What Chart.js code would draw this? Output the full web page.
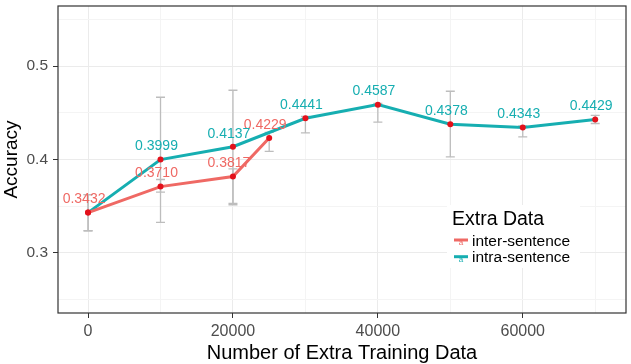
<!DOCTYPE html>
<html>
<head>
<meta charset="utf-8">
<script src="https://cdn.jsdelivr.net/npm/chart.js@4.4.1/dist/chart.umd.min.js"></script>
<style>
  html, body { margin: 0; padding: 0; background: #fff; }
  #wrap { width: 631px; height: 364px; }
</style>
</head>
<body>
<div id="wrap"><canvas id="myChart" width="631" height="364"></canvas></div>
<script>
// datos
const interX = [0, 10000, 20000, 25000];
const interAcc = [0.3432, 0.3710, 0.3817, 0.4229];
const interLow = [0.3238, 0.3652, 0.3530, 0.4087];
const interHigh = [0.3624, 0.3786, 0.3900, 0.4290];

const intraX = [0, 10000, 20000, 30000, 40000, 50000, 60000, 70000];
const intraAcc = [0.3432, 0.3999, 0.4137, 0.4441, 0.4587, 0.4378, 0.4343, 0.4429];
const intraLow = [0.3238, 0.3327, 0.3516, 0.4285, 0.4399, 0.4029, 0.4243, 0.4385];
const intraHigh = [0.3624, 0.4666, 0.4741, 0.4460, 0.4600, 0.4730, 0.4360, 0.4473];

const xTicks = [0, 10000, 20000, 30000, 40000, 50000, 60000, 70000];
const yTicks = [0.25, 0.3, 0.35, 0.4, 0.45, 0.5, 0.55];

const colorInter = '#EF6964';
const colorIntra = '#16AEB1';
const FONT = "'Liberation Sans', Arial, sans-serif";

const ctx = document.getElementById('myChart');

function puntos(xs, ys) {
    return xs.map((x, i) => ({ x: x, y: ys[i] }));
}

const series = [
    { label: 'inter-sentence', color: colorInter, xs: interX, ys: interAcc, lo: interLow, hi: interHigh },
    { label: 'intra-sentence', color: colorIntra, xs: intraX, ys: intraAcc, lo: intraLow, hi: intraHigh }
];

// barras de error dibujadas con las escalas del grafico
const errorBars = {
    id: 'errorBars',
    beforeDatasetsDraw(chart) {
        const c = chart.ctx;
        const sx = chart.scales.x, sy = chart.scales.y;
        c.save();
        c.strokeStyle = '#BDBDBD';
        c.lineWidth = 1.3;
        series.forEach(s => {
            s.xs.forEach((x, i) => {
                const px = sx.getPixelForValue(x);
                const y1 = sy.getPixelForValue(s.lo[i]);
                const y2 = sy.getPixelForValue(s.hi[i]);
                c.beginPath();
                c.moveTo(px, y1); c.lineTo(px, y2);
                c.moveTo(px - 4.5, y1); c.lineTo(px + 4.5, y1);
                c.moveTo(px - 4.5, y2); c.lineTo(px + 4.5, y2);
                c.stroke();
            });
        });
        c.restore();
    },
    afterDatasetsDraw(chart) {
        const c = chart.ctx;
        const sx = chart.scales.x, sy = chart.scales.y;
        const a = chart.chartArea;
        c.save();
        // etiquetas de valores
        c.font = '14px ' + FONT;
        c.textAlign = 'center';
        c.textBaseline = 'middle';
        const hechos = [];
        series.forEach(s => {
            c.fillStyle = s.color;
            s.xs.forEach((x, i) => {
                const key = x + '_' + s.ys[i];
                if (hechos.includes(key)) return;
                hechos.push(key);
                const px = sx.getPixelForValue(x);
                const py = sy.getPixelForValue(s.ys[i]);
                c.fillText(s.ys[i].toFixed(4), px - 4, py - 13);
            });
        });
        // borde del panel
        c.strokeStyle = '#333333';
        c.lineWidth = 1.2;
        c.strokeRect(a.left, a.top, a.right - a.left, a.bottom - a.top);

        // leyenda
        c.fillStyle = '#ffffff';
        c.fillRect(447, 205, 133, 63);
        c.fillStyle = '#000000';
        c.textAlign = 'left';
        c.textBaseline = 'alphabetic';
        c.font = '19.5px ' + FONT;
        c.fillText('Extra Data', 452, 225);
        series.forEach((s, i) => {
            const cy = 240 + i * 16.7;
            c.strokeStyle = s.color;
            c.lineWidth = 3;
            c.beginPath();
            c.moveTo(454, cy); c.lineTo(468, cy);
            c.stroke();
            c.fillStyle = s.color;
            c.font = '8px ' + FONT;
            c.textAlign = 'center';
            c.fillText('a', 461, cy + 5);
            c.fillStyle = '#000000';
            c.font = '15.5px ' + FONT;
            c.textAlign = 'left';
            c.fillText(s.label, 472, cy + 5.5);
        });
        c.restore();
    }
};

const config = {
    type: 'line',
    data: {
        datasets: series.map(s => ({
            label: s.label,
            data: puntos(s.xs, s.ys),
            borderColor: s.color,
            borderWidth: 3,
            pointRadius: 3,
            pointBackgroundColor: '#E3111B',
            pointBorderWidth: 0,
            tension: 0
        }))
    },
    options: {
        responsive: false,
        animation: false,
        devicePixelRatio: 1,
        layout: { padding: { top: 6, right: 5, left: 0, bottom: 0 } },
        plugins: { legend: { display: false }, tooltip: { enabled: false } },
        scales: {
            x: {
                type: 'linear',
                min: -4150,
                max: 74250,
                afterBuildTicks: sc => { sc.ticks = xTicks.map(v => ({ value: v })); },
                afterFit: sc => { sc.height = 51; sc.paddingLeft = 0; sc.paddingRight = 0; },
                border: { display: false },
                grid: {
                    color: c => (c.tick && c.tick.value % 20000 === 0) ? '#EBEBEB' : '#F4F4F4',
                    lineWidth: 1,
                    tickColor: c => (c.tick && c.tick.value % 20000 === 0) ? '#333333' : 'rgba(0,0,0,0)',
                    tickLength: 5
                },
                ticks: {
                    autoSkip: false,
                    maxRotation: 0,
                    padding: 4,
                    color: '#4D4D4D',
                    font: { family: FONT, size: 16 },
                    callback: v => (v % 20000 === 0) ? String(v) : ''
                },
                title: {
                    display: true,
                    text: 'Number of Extra Training Data',
                    color: '#000000',
                    font: { family: FONT, size: 20 },
                    padding: { top: 0, bottom: -1 }
                }
            },
            y: {
                type: 'linear',
                min: 0.2358,
                max: 0.5642,
                afterBuildTicks: sc => { sc.ticks = yTicks.map(v => ({ value: v })); },
                afterFit: sc => { sc.width = 58; sc.paddingTop = 0; sc.paddingBottom = 0; },
                border: { display: false },
                grid: {
                    color: c => (c.tick && Math.round(c.tick.value * 100) % 10 === 0) ? '#EBEBEB' : '#F4F4F4',
                    lineWidth: 1,
                    tickColor: c => (c.tick && Math.round(c.tick.value * 100) % 10 === 0) ? '#333333' : 'rgba(0,0,0,0)',
                    tickLength: 5
                },
                ticks: {
                    autoSkip: false,
                    padding: 5,
                    color: '#4D4D4D',
                    font: { family: FONT, size: 15.5 },
                    callback: v => (Math.round(v * 100) % 10 === 0) ? v.toFixed(1) : ''
                },
                title: {
                    display: true,
                    text: 'Accuracy',
                    color: '#000000',
                    font: { family: FONT, size: 19 },
                    padding: { top: 0, bottom: 0 }
                }
            }
        }
    },
    plugins: [errorBars]
};

const myChart = new Chart(ctx, config);
</script>
</body>
</html>
